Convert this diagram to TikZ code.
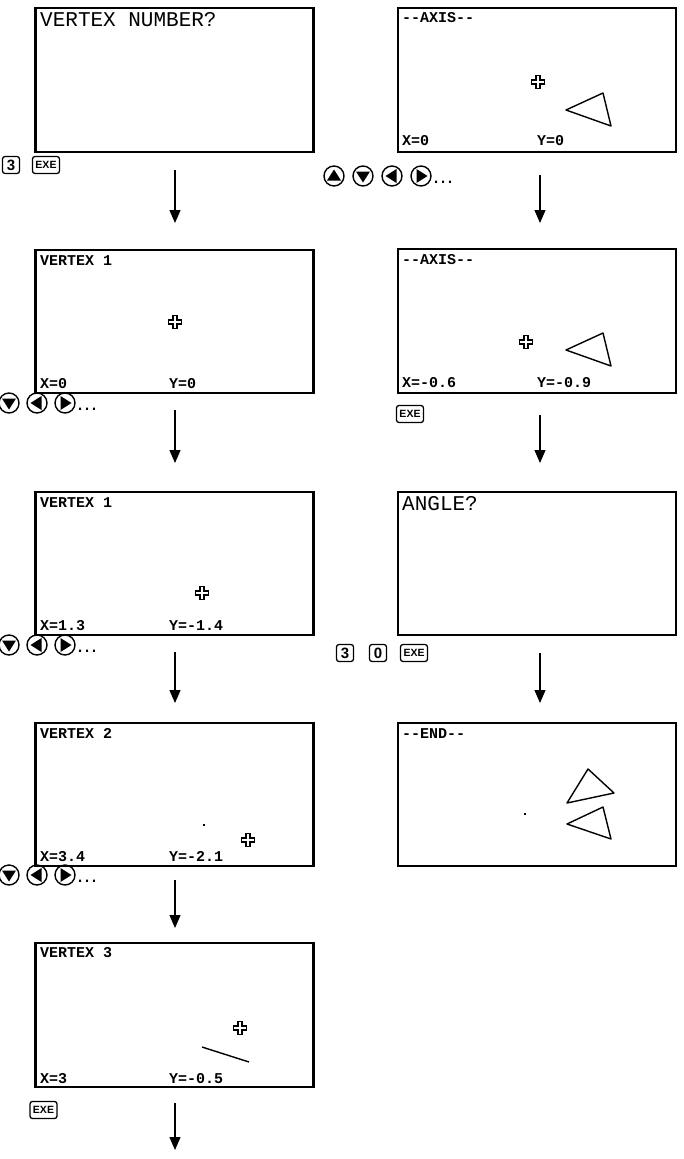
\documentclass[tikz,border=0pt]{standalone}
\usepackage{fontspec}
\setsansfont{Liberation Sans}
\setmonofont{Liberation Mono}
\usetikzlibrary{positioning,arrows.meta,calc}

\tikzset{
  screen/.style={draw,line width=2.4pt,minimum width=278pt,
                 minimum height=143.5pt,inner sep=0pt},
  bigtxt/.style={anchor=base west,inner sep=0pt,
                 font=\ttfamily\fontsize{21}{21}\selectfont},
  lcdtxt/.style={anchor=base west,inner sep=0pt,
                 font=\ttfamily\bfseries\fontsize{15}{15}\selectfont},
  lcdline/.style={line width=1.4pt,line join=round},
  flow/.style={line width=1.3pt,-{Triangle[width=11pt,length=13pt]}},
  digitkey/.style={draw,line width=1.3pt,rounded corners=2.5pt,
                   minimum width=17pt,minimum height=17pt,inner sep=0pt,
                   font=\sffamily\bfseries\fontsize{15}{15}\selectfont},
  exekey/.style={digitkey,minimum width=27pt,
                 font=\sffamily\bfseries\fontsize{10.5}{10.5}\selectfont},
  dots/.style={anchor=base west,inner sep=0pt,
               font=\sffamily\fontsize{22}{22}\selectfont},
  cursor/.pic={\draw[line width=1.7pt,line join=miter]
      (-2.3,-6.5) -- (2.3,-6.5) -- (2.3,-2.3) -- (6.5,-2.3) -- (6.5,2.3)
      -- (2.3,2.3) -- (2.3,6.5) -- (-2.3,6.5) -- (-2.3,2.3) -- (-6.5,2.3)
      -- (-6.5,-2.3) -- (-2.3,-2.3) -- cycle;},
  padkey/.pic={\draw[line width=1.4pt] (0,0) circle (10pt);
      \fill (0,-6.5) -- (7,4.5) -- (-7,4.5) -- cycle;},
}

\begin{document}
\begin{tikzpicture}[x=1pt,y=-1pt]
\useasboundingbox (0,0) rectangle (684,1159);

% left column of screens
\node[screen] (vnum) at (174.5,80) {};
\node[screen] (vone) at (174.5,321.5) {};
\node[screen] (vonemv) at (174.5,563.5) {};
\node[screen] (vtwo) at (174.5,794.5) {};
\node[screen] (vthree) at (174.5,1015) {};

% right column of screens
\node[screen] (axis) at (537,80) {};
\node[screen] (axismv) at (537,321) {};
\node[screen] (angle) at (537,563.5) {};
\node[screen] (done) at (537,794.5) {};

% screen texts
\node[bigtxt] (tvnum) at (40,27) {VERTEX NUMBER?};
\node[lcdtxt] (tvone) at (40,265) {VERTEX 1};
\node[lcdtxt] (xvone) at (40,388) {X=0};
\node[lcdtxt] (yvone) at (169,388) {Y=0};
\node[lcdtxt] (tvonemv) at (40,507) {VERTEX 1};
\node[lcdtxt] (xvonemv) at (40,630) {X=1.3};
\node[lcdtxt] (yvonemv) at (169,630) {Y=-1.4};
\node[lcdtxt] (tvtwo) at (40,738) {VERTEX 2};
\node[lcdtxt] (xvtwo) at (40,861) {X=3.4};
\node[lcdtxt] (yvtwo) at (169,861) {Y=-2.1};
\node[lcdtxt] (tvthree) at (40,957) {VERTEX 3};
\node[lcdtxt] (xvthree) at (40,1083) {X=3};
\node[lcdtxt] (yvthree) at (169,1083) {Y=-0.5};

\node[lcdtxt] (taxis) at (402,22) {--AXIS--};
\node[lcdtxt] (xaxis) at (402,145) {X=0};
\node[lcdtxt] (yaxis) at (537,145) {Y=0};
\node[lcdtxt] (taxismv) at (402,264) {--AXIS--};
\node[lcdtxt] (xaxismv) at (402,387) {X=-0.6};
\node[lcdtxt] (yaxismv) at (537,387) {Y=-0.9};
\node[bigtxt] (tangle) at (402,510) {ANGLE?};
\node[lcdtxt] (tdone) at (402,738) {--END--};

% cursors
\pic at (175,322) {cursor};
\pic at (202,593) {cursor};
\pic at (248,840) {cursor};
\pic at (240,1028) {cursor};
\pic at (538,82) {cursor};
\pic at (526,342) {cursor};

% plotted points and figures
\fill (203,824) rectangle (205,826);
\fill (524,813) rectangle (526,815);
\draw[lcdline] (202,1047) -- (249,1062);
\draw[lcdline] (566,110) -- (603,93) -- (611,126) -- cycle;
\draw[lcdline] (566,350) -- (603,333) -- (611,366) -- cycle;
\draw[lcdline] (567,824) -- (603,807) -- (611,839) -- cycle;
\draw[lcdline] (567,803) -- (588,769) -- (614,793) -- cycle;

% key presses
\node[digitkey] (kthree) at (11,165) {3};
\node[exekey] (kexe) at (46,165) {EXE};
\pic[rotate=0] at (334,176) {padkey};
\pic[rotate=180] at (363,176) {padkey};
\pic[rotate=90] at (392,176) {padkey};
\pic[rotate=-90] at (421,176) {padkey};
\node[dots] (dtop) at (432,183) {…};
\foreach \ky/\nm in {403/dvone,645/dvonemv,875/dvtwo}{
  \pic[rotate=180] at (9,\ky) {padkey};
  \pic[rotate=90] at (37,\ky) {padkey};
  \pic[rotate=-90] at (65,\ky) {padkey};
  \node[dots] (\nm) at (76,\ky+7) {…};
}
\node[exekey] (kexeaxis) at (410,414) {EXE};
\node[digitkey] (kthreeang) at (345,653) {3};
\node[digitkey] (kzero) at (378,653) {0};
\node[exekey] (kexeang) at (414,653) {EXE};
\node[exekey] (kexeend) at (43.5,1110) {EXE};

% flow arrows
\coordinate (fa1) at (175,170);  \coordinate (fb1) at (175,223);
\coordinate (fa2) at (175,410);  \coordinate (fb2) at (175,463);
\coordinate (fa3) at (175,652);  \coordinate (fb3) at (175,703);
\coordinate (fa4) at (175,880);  \coordinate (fb4) at (175,928);
\coordinate (fa5) at (175,1103); \coordinate (fb5) at (175,1150);
\coordinate (ga1) at (540,175);  \coordinate (gb1) at (540,223);
\coordinate (ga2) at (540,415);  \coordinate (gb2) at (540,463);
\coordinate (ga3) at (540,653);  \coordinate (gb3) at (540,703);
\foreach \s/\e in {fa1/fb1,fa2/fb2,fa3/fb3,fa4/fb4,fa5/fb5,
                   ga1/gb1,ga2/gb2,ga3/gb3}
  \draw[flow] (\s) -- (\e);
\end{tikzpicture}
\end{document}
